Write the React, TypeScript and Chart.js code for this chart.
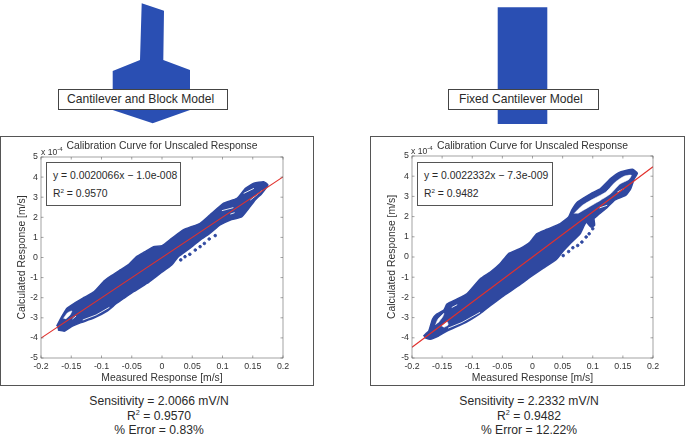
import React, { useEffect, useRef } from "react";
import { Chart, registerables } from "chart.js";

Chart.register(...registerables);

const TITLE = "Calibration Curve for Unscaled Response";
const X_LABEL = "Measured Response [m/s]";
const Y_LABEL = "Calculated Response [m/s]";
const X_TICK_STEP = 0.05;
const X_RANGE = [-0.2, 0.2];
const Y_RANGE = [-5, 5];
const BLUE = "#2f48a0";
const RED = "#e2302c";

// ---- left: cantilever and block model
const leftBandX = [-0.174, -0.164, -0.157, -0.145, -0.128, -0.112, -0.095, -0.086, -0.069, -0.056, -0.042, -0.028, -0.014, 0, 0.016, 0.035, 0.063, 0.079, 0.102, 0.124, 0.138, 0.152, 0.168, 0.175, 0.165, 0.154, 0.132, 0.113, 0.096, 0.079, 0.063, 0.046, 0.027, 0.016, -0.003, -0.025, -0.047, -0.064, -0.076, -0.09, -0.112, -0.134, -0.148, -0.161, -0.172];
const leftBandY = [-3.41, -2.86, -2.53, -2.28, -1.98, -1.7, -1.15, -0.95, -0.62, -0.37, 0.04, 0.29, 0.54, 0.59, 0.95, 1.37, 1.7, 2.11, 2.7, 2.94, 3.44, 3.69, 3.77, 3.61, 3.19, 2.86, 2.03, 1.87, 1.62, 1.2, 0.87, 0.46, 0.04, -0.37, -0.79, -1.29, -1.7, -2.05, -2.3, -2.65, -3.0, -3.24, -3.41, -3.66, -3.61];
const leftDotsX = [0.031, 0.038, 0.046, 0.055, 0.063, 0.07, 0.078, 0.088];
const leftDotsY = [-0.12, 0.04, 0.16, 0.37, 0.54, 0.7, 0.92, 1.09];
const leftHoleX = [-0.163, -0.156, -0.149, -0.152, -0.159];
const leftHoleY = [-3.03, -2.75, -2.66, -2.86, -3.06];
const leftGapsX = [[-0.148, -0.142], [-0.131, -0.109, -0.087], [0.135, 0.152], [0.146, 0.165], [0.099, 0.118], [0.113, 0.12]];
const leftGapsY = [[-3.06, -2.91], [-3.11, -2.86, -2.48], [3.19, 3.44], [2.86, 3.32], [2.33, 2.48], [2.16, 2.23]];
const leftFitX = [-0.2, 0.2];
const leftFitY = [-4.01, 4.01];

// ---- right: fixed cantilever model
const rightBandX = [-0.181, -0.172, -0.166, -0.159, -0.147, -0.142, -0.125, -0.109, -0.087, -0.07, -0.054, -0.04, -0.021, -0.004, 0.007, 0.024, 0.046, 0.06, 0.065, 0.075, 0.097, 0.113, 0.13, 0.147, 0.166, 0.174, 0.169, 0.163, 0.155, 0.136, 0.122, 0.108, 0.102, 0.103, 0.097, 0.089, 0.079, 0.062, 0.051, 0.04, 0.018, -0.004, -0.023, -0.048, -0.07, -0.087, -0.111, -0.142, -0.156, -0.17, -0.179];
const rightBandY = [-3.91, -3.66, -3.08, -2.83, -2.63, -2.33, -2.08, -1.83, -1.09, -0.75, -0.34, 0.16, 0.41, 0.74, 1.15, 1.37, 1.65, 1.98, 2.31, 2.73, 3.14, 3.39, 3.89, 4.22, 4.34, 4.14, 3.89, 3.39, 3.06, 2.81, 2.4, 2.06, 1.9, 1.57, 1.48, 1.73, 1.15, 0.65, 0.3, -0.1, -0.55, -1.0, -1.42, -1.92, -2.41, -2.8, -3.24, -3.66, -3.91, -4.07, -3.99];
const rightDotsX = [0.1, 0.094, 0.089, 0.082, 0.075, 0.067, 0.06, 0.051];
const rightDotsY = [1.4, 1.15, 0.99, 0.74, 0.57, 0.46, 0.27, 0.07];
const rightLoopX = [0.069, 0.083, 0.105, 0.122, 0.138, 0.152, 0.164, 0.16, 0.145, 0.13, 0.113, 0.094, 0.075];
const rightLoopY = [2.15, 2.56, 2.94, 3.22, 3.72, 4.0, 4.05, 3.84, 3.61, 3.14, 2.81, 2.48, 2.15];
const rightHoleX = [-0.161, -0.157, -0.147, -0.149, -0.156];
const rightHoleY = [-3.36, -3.08, -2.79, -2.96, -3.24];
const rightBlobX = [-0.151, -0.142, -0.14, -0.147];
const rightBlobY = [-3.41, -3.19, -3.36, -3.49];
const rightGapsX = [[-0.14, -0.117, -0.087], [-0.134, -0.125], [0.111, 0.124], [0.141, 0.152]];
const rightGapsY = [[-3.52, -3.24, -2.74], [-2.5, -2.36], [2.43, 2.56], [3.22, 3.39]];
const rightFitX = [-0.2, 0.2];
const rightFitY = [-4.47, 4.47];

const zip = (xs: number[], ys: number[]) => xs.map((x, i) => ({ x, y: ys[i] }));

const axesBox = {
  id: "axesBox",
  afterDraw(chart: any) {
    const { ctx, chartArea: a, scales } = chart;
    ctx.save();
    ctx.strokeStyle = "#666";
    ctx.lineWidth = 0.6;
    ctx.strokeRect(a.left, a.top, a.right - a.left, a.bottom - a.top);
    ctx.beginPath();
    for (const t of scales.x.ticks) {
      const p = scales.x.getPixelForValue(t.value);
      ctx.moveTo(p, a.bottom); ctx.lineTo(p, a.bottom - 2.5);
      ctx.moveTo(p, a.top); ctx.lineTo(p, a.top + 2.5);
    }
    for (const t of scales.y.ticks) {
      const p = scales.y.getPixelForValue(t.value);
      ctx.moveTo(a.left, p); ctx.lineTo(a.left + 2.5, p);
      ctx.moveTo(a.right, p); ctx.lineTo(a.right - 2.5, p);
    }
    ctx.stroke();
    ctx.restore();
  },
};

type PlotProps = {
  left: number; width: number; plotLeft: number; plotRight: number; plotTop: number;
  bandX: number[]; bandY: number[]; dotsX: number[]; dotsY: number[];
  holes: { x: number[]; y: number[] }[];
  gapsX: number[][]; gapsY: number[][];
  fitX: number[]; fitY: number[];
};

const AXIS_PAD_LEFT = 16;

function Plot(p: PlotProps) {
  const ref = useRef<HTMLCanvasElement>(null);
  useEffect(() => {
    const datasets: any[] = [
      { type: "scatter", data: zip(p.fitX, p.fitY), showLine: true, borderColor: RED, borderWidth: 1.2, pointRadius: 0, order: 0 },
      ...p.gapsX.map((gx, i) => ({ type: "scatter", data: zip(gx, p.gapsY[i]), showLine: true, borderColor: "#e4e9f5", borderWidth: 1, pointRadius: 0, order: 1 })),
      ...p.holes.map((h) => ({ type: "scatter", data: zip(h.x, h.y), showLine: true, fill: "shape", backgroundColor: "#ffffff", borderColor: "#ffffff", borderWidth: 0.5, pointRadius: 0, tension: 0.2, order: 1 })),
      { type: "scatter", data: zip(p.bandX, p.bandY), showLine: true, fill: "shape", backgroundColor: BLUE, borderColor: BLUE, borderWidth: 1.6, borderJoinStyle: "round", tension: 0.15, pointRadius: 0, order: 2 },
      { type: "scatter", data: zip(p.dotsX, p.dotsY), backgroundColor: BLUE, borderColor: BLUE, pointRadius: 1.3, order: 2 },
    ];
    const font = { family: "'Liberation Sans', Arial, sans-serif" };
    const chart = new Chart(ref.current!, {
      type: "scatter",
      data: { datasets },
      plugins: [axesBox],
      options: {
        animation: false,
        responsive: false,
        layout: { padding: { left: AXIS_PAD_LEFT, right: p.width - p.plotRight, top: 0, bottom: 1.5 } },
        plugins: {
          legend: { display: false },
          tooltip: { enabled: false },
          title: {
            display: true, text: TITLE, fullSize: false, color: "#333",
            font: { ...font, size: 10.4, weight: "normal", lineHeight: 1.2 },
            padding: { top: 3.5, bottom: p.plotTop - 3.5 - 12.48 },
          },
        },
        scales: {
          x: {
            type: "linear", min: X_RANGE[0], max: X_RANGE[1],
            afterFit: (s: any) => { s.height = 26.5; },
            grid: { display: false, drawTicks: false }, border: { display: false },
            ticks: {
              stepSize: X_TICK_STEP, autoSkip: false, maxRotation: 0, color: "#333", padding: 3.5,
              font: { ...font, size: 8.8 },
              callback: (v: any) => String(Number(Number(v).toFixed(2))),
            },
            title: { display: true, text: X_LABEL, color: "#333", font: { ...font, size: 10.4 }, padding: { top: 1, bottom: 0 } },
          },
          y: {
            type: "linear", min: Y_RANGE[0], max: Y_RANGE[1],
            afterFit: (s: any) => { s.width = p.plotLeft - AXIS_PAD_LEFT; },
            grid: { display: false, drawTicks: false }, border: { display: false },
            ticks: { stepSize: 1, color: "#333", padding: 3, font: { ...font, size: 8.8 } },
            title: { display: true, text: Y_LABEL, color: "#333", font: { ...font, size: 10.4 }, padding: { top: 0, bottom: 2 } },
          },
        },
      } as any,
    } as any);
    return () => chart.destroy();
  }, []);
  return (
    <canvas
      ref={ref}
      width={p.width}
      height={250}
      style={{ position: "absolute", left: p.left, top: 136, width: p.width, height: 250 }}
    />
  );
}

const textStyle: React.CSSProperties = {
  position: "absolute",
  fontFamily: "'Liberation Sans', Arial, sans-serif",
  color: "#2a2a2a",
  whiteSpace: "nowrap",
};

const R2 = () => <>R<sup style={{ fontSize: "0.6em", lineHeight: 0 }}>2</sup></>;

function Stats(p: { cx: number; s: string; r: string; e: string }) {
  const lines = [
    <>Sensitivity = {p.s} mV/N</>,
    <><R2 /> = {p.r}</>,
    <>% Error = {p.e}%</>,
  ];
  return (
    <>
      {lines.map((l, i) => (
        <div key={i} style={{ ...textStyle, left: p.cx - 100, width: 200, textAlign: "center", top: 394 + i * 14.7, fontSize: 12.15, lineHeight: "15px" }}>{l}</div>
      ))}
    </>
  );
}

function Frame(p: { left: number; width: number }) {
  return <div style={{ position: "absolute", left: p.left, top: 136, width: p.width, height: 250, boxSizing: "border-box", border: "1.3px solid #555" }} />;
}

function LabelBox(p: { left: number; width: number; text: string; pad: number }) {
  return (
    <div style={{ ...textStyle, left: p.left, width: p.width, top: 89, height: 21, boxSizing: "border-box", border: "1px solid #444", background: "#fff", paddingLeft: p.pad, fontSize: 12.1, lineHeight: "19px" }}>
      {p.text}
    </div>
  );
}

function EquationBox(p: { left: number; top: number; width: number; eq: string; r: string }) {
  return (
    <div style={{ ...textStyle, left: p.left, top: p.top, width: p.width, height: 44, boxSizing: "border-box", border: "1px solid #555", background: "#fff", fontSize: 10.4 }}>
      <div style={{ position: "absolute", left: 6, top: 7, lineHeight: "12px" }}>{p.eq}</div>
      <div style={{ position: "absolute", left: 6, top: 25, lineHeight: "12px" }}><R2 /> = {p.r}</div>
    </div>
  );
}

function Exponent(p: { left: number; top: number }) {
  return (
    <div style={{ ...textStyle, left: p.left, top: p.top, fontSize: 8.6, lineHeight: "10px", color: "#333" }}>
      x 10<sup style={{ fontSize: "0.7em", lineHeight: 0 }}>-4</sup>
    </div>
  );
}

export default function App() {
  useEffect(() => {
    document.body.style.margin = "0";
  }, []);
  return (
    <div style={{ position: "absolute", left: 0, top: 0, width: 685, height: 437, overflow: "hidden", background: "#fff" }}>
      <svg width={685} height={125} style={{ position: "absolute", left: 0, top: 0 }}>
        <polygon points="141.7,3.3 164,10.7 163.3,60 190,70 190,110 152.7,123.3 112.7,110 112.7,71 140,60" fill="#2a4fb3" />
        <polygon points="497.7,7.3 547.3,7.3 547.3,124 497.7,124" fill="#2a4fb3" />
      </svg>
      <LabelBox left={58} width={170} text="Cantilever and Block Model" pad={8} />
      <LabelBox left={448} width={151} text="Fixed Cantilever Model" pad={10} />

      <Frame left={0} width={314} />
      <Frame left={370} width={315} />
      <Plot left={0} width={314} plotLeft={41} plotRight={283} plotTop={21}
        bandX={leftBandX} bandY={leftBandY} dotsX={leftDotsX} dotsY={leftDotsY}
        holes={[{ x: leftHoleX, y: leftHoleY }]} gapsX={leftGapsX} gapsY={leftGapsY}
        fitX={leftFitX} fitY={leftFitY} />
      <Plot left={370} width={315} plotLeft={42} plotRight={283} plotTop={20}
        bandX={rightBandX} bandY={rightBandY} dotsX={rightDotsX} dotsY={rightDotsY}
        holes={[{ x: rightHoleX, y: rightHoleY }, { x: rightBlobX, y: rightBlobY }, { x: rightLoopX, y: rightLoopY }]} gapsX={rightGapsX} gapsY={rightGapsY}
        fitX={rightFitX} fitY={rightFitY} />

      <Exponent left={41} top={147} />
      <Exponent left={411} top={146} />
      <EquationBox left={46} top={162} width={135} eq="y = 0.0020066x − 1.0e-008" r="0.9570" />
      <EquationBox left={417} top={162} width={136} eq="y = 0.0022332x − 7.3e-009" r="0.9482" />

      <Stats cx={159} s="2.0066" r="0.9570" e="0.83" />
      <Stats cx={529} s="2.2332" r="0.9482" e="12.22" />
    </div>
  );
}
